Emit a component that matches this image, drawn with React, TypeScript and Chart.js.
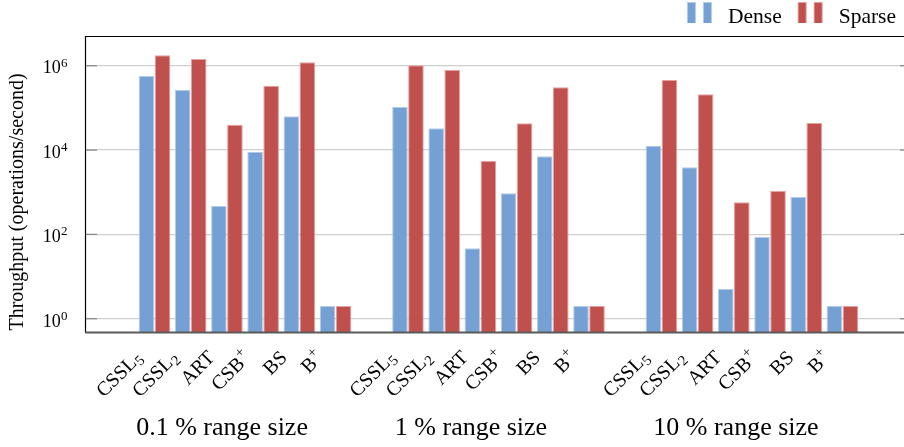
import { useEffect, useRef } from "react";
import { Chart, registerables } from "chart.js";

Chart.register(...registerables);

// ---- data ----
const GROUPS = ["0.1 % range size", "1 % range size", "10 % range size"];
const STRUCTURES = ["CSSL_5", "CSSL_2", "ART", "CSB^+", "BS", "B^+"];
const SERIES = ["Dense", "Sparse"];
const Y_TICKS = [1, 100, 10000, 1000000];

const DENSE_01 = [5.7e5, 2.65e5, 470, 9.1e3, 6.3e4, 2];
const SPARSE_01 = [1.76e6, 1.44e6, 4.0e4, 3.35e5, 1.2e6, 2];
const DENSE_1 = [1.05e5, 3.3e4, 47, 940, 7.1e3, 2];
const SPARSE_1 = [1.02e6, 7.9e5, 5.5e3, 4.3e4, 3.07e5, 2];
const DENSE_10 = [1.27e4, 3.9e3, 5.1, 86.5, 769, 2];
const SPARSE_10 = [4.6e5, 2.1e5, 575, 1.07e3, 4.4e4, 2];

const DENSE = [DENSE_01, DENSE_1, DENSE_10];
const SPARSE = [SPARSE_01, SPARSE_1, SPARSE_10];

const FONT = "'Liberation Serif', 'DejaVu Serif', serif";
const BLUE = "rgb(116,160,211)";
const BLUE_EDGE = "rgb(178,204,236)";
const RED = "rgb(192,80,77)";
const RED_EDGE = "rgb(230,160,158)";

const SLOT = STRUCTURES.length + 1;
const positions: number[] = [];
GROUPS.forEach((_, g) => STRUCTURES.forEach((__, i) => positions.push(g * SLOT + i)));

function toPoints(groups: number[][]) {
  const pts: { x: number; y: number }[] = [];
  groups.forEach((vals, g) => vals.forEach((v, i) => pts.push({ x: g * SLOT + i, y: v })));
  return pts;
}

function parseLabel(s: string) {
  const m = s.match(/^(.*?)([_^])(.*)$/);
  if (!m) return { base: s, script: "", sup: false };
  return { base: m[1], script: m[3], sup: m[2] === "^" };
}

function line(ctx: CanvasRenderingContext2D, x1: number, y1: number, x2: number, y2: number) {
  ctx.beginPath();
  ctx.moveTo(x1, y1);
  ctx.lineTo(x2, y2);
  ctx.stroke();
}

const GROUP_LABEL_SHIFT = [-23, -27.5, -16];

const decorPlugin = {
  id: "decor",
  afterDraw(chart: any) {
    const ctx: CanvasRenderingContext2D = chart.ctx;
    const { left, right, top, bottom } = chart.chartArea;
    const xs = chart.scales.x;
    const ys = chart.scales.y;
    ctx.save();

    // inner tick marks
    ctx.strokeStyle = "#8c8c8c";
    ctx.lineWidth = 1.3;
    ys.ticks.forEach((t: any) => {
      const py = ys.getPixelForValue(t.value);
      line(ctx, left, py, left + 12, py);
      line(ctx, right - 4, py, right, py);
    });

    // axis lines
    ctx.strokeStyle = "#000";
    ctx.lineWidth = 1.2;
    line(ctx, left, top + 0.5, right, top + 0.5);
    line(ctx, left + 0.5, top, left + 0.5, bottom);
    ctx.strokeStyle = "#5a5a5a";
    ctx.lineWidth = 2;
    line(ctx, left, bottom, right, bottom);

    // y tick labels: 10^k
    ctx.fillStyle = "#000";
    ctx.textBaseline = "alphabetic";
    ys.ticks.forEach((t: any) => {
      const py = ys.getPixelForValue(t.value);
      const exp = String(Math.round(Math.log10(t.value)));
      ctx.font = `13px ${FONT}`;
      const we = ctx.measureText(exp).width;
      ctx.textAlign = "left";
      const xe = 67.5 - we;
      ctx.fillText(exp, xe, py + 1);
      ctx.font = `18px ${FONT}`;
      ctx.textAlign = "right";
      ctx.fillText("10", xe - 0.3, py + 7.8);
    });

    // x tick labels (rotated 45deg)
    const base = 20;
    const small = 14.5;
    xs.ticks.forEach((t: any) => {
      const idx = Math.round(t.value) % SLOT;
      const lab = parseLabel(STRUCTURES[idx]);
      const px = xs.getPixelForValue(t.value);
      ctx.save();
      ctx.translate(px - 16, bottom + 21.5);
      ctx.rotate(-Math.PI / 4);
      ctx.font = `${small}px ${FONT}`;
      const ws = lab.script ? ctx.measureText(lab.script).width + 0.5 : 0;
      ctx.font = `${base}px ${FONT}`;
      const wb = ctx.measureText(lab.base).width;
      const yb = base * 0.33;
      ctx.textAlign = "left";
      ctx.fillText(lab.base, -(wb + ws), yb);
      if (lab.script) {
        ctx.font = `${small}px ${FONT}`;
        ctx.fillText(lab.script, -ws + 0.5, lab.sup ? yb - base * 0.42 : yb + base * 0.18);
      }
      ctx.restore();
    });

    // group labels
    ctx.font = `26px ${FONT}`;
    ctx.textAlign = "center";
    GROUPS.forEach((g, gi) => {
      const c = xs.getPixelForValue(gi * SLOT + (STRUCTURES.length - 1) / 2) + GROUP_LABEL_SHIFT[gi];
      ctx.fillText(g, c, 435);
    });

    // y axis title
    ctx.save();
    ctx.translate(17.5, 202);
    ctx.rotate(-Math.PI / 2);
    ctx.font = `20px ${FONT}`;
    ctx.textAlign = "center";
    ctx.textBaseline = "middle";
    ctx.fillText("Throughput (operations/second)", 0, 0);
    ctx.restore();

    // legend
    ctx.font = `21.5px ${FONT}`;
    ctx.textAlign = "left";
    ctx.textBaseline = "alphabetic";
    let xr = 896;
    const ds = chart.data.datasets;
    for (let i = ds.length - 1; i >= 0; i--) {
      const w = ctx.measureText(ds[i].label).width;
      const tx = xr - w;
      ctx.fillStyle = "#000";
      ctx.fillText(ds[i].label, tx, 22.7);
      const ix = tx - 41;
      [ix, ix + 16].forEach((bx) => {
        ctx.fillStyle = ds[i].borderColor;
        ctx.fillRect(bx, 2, 9, 21);
        ctx.fillStyle = ds[i].backgroundColor;
        ctx.fillRect(bx + 1, 3, 7, 20);
      });
      xr = ix - 16;
    }
    ctx.restore();
  },
};

export default function App() {
  const ref = useRef<HTMLCanvasElement | null>(null);
  useEffect(() => {
    if (!ref.current) return;
    const chart = new Chart(ref.current, {
      type: "bar",
      data: {
        datasets: [
          {
            label: SERIES[0],
            data: toPoints(DENSE) as any,
            backgroundColor: BLUE,
            borderColor: BLUE_EDGE,
            borderWidth: 1,
            categoryPercentage: 0.884,
            barPercentage: 0.975,
          },
          {
            label: SERIES[1],
            data: toPoints(SPARSE) as any,
            backgroundColor: RED,
            borderColor: RED_EDGE,
            borderWidth: 1,
            categoryPercentage: 0.884,
            barPercentage: 0.975,
          },
        ],
      },
      options: {
        animation: false,
        responsive: false,
        devicePixelRatio: 1,
        layout: { padding: { top: 36, left: 0, right: 0, bottom: 0 } },
        plugins: { legend: { display: false }, tooltip: { enabled: false } },
        scales: {
          x: {
            type: "linear",
            min: -1.92,
            max: 20.7,
            offset: false,
            grid: { display: false },
            border: { display: false },
            ticks: { display: false },
            afterBuildTicks: (s: any) => {
              s.ticks = positions.map((v) => ({ value: v }));
            },
            afterFit: (s: any) => {
              s.height = 114.5;
            },
          },
          y: {
            type: "logarithmic",
            min: 0.471,
            max: 5.06e6,
            grid: { color: "#cfcfcf", lineWidth: 1.3, drawTicks: false },
            border: { display: false },
            ticks: { display: false },
            afterBuildTicks: (s: any) => {
              s.ticks = Y_TICKS.map((v) => ({ value: v }));
            },
            afterFit: (s: any) => {
              s.width = 85;
            },
          },
        },
      },
      plugins: [decorPlugin],
    });
    return () => chart.destroy();
  }, []);
  return (
    <div style={{ position: "fixed", left: 0, top: 0, width: 904, height: 447, background: "#fff" }}>
      <canvas ref={ref} width={904} height={447} />
    </div>
  );
}
